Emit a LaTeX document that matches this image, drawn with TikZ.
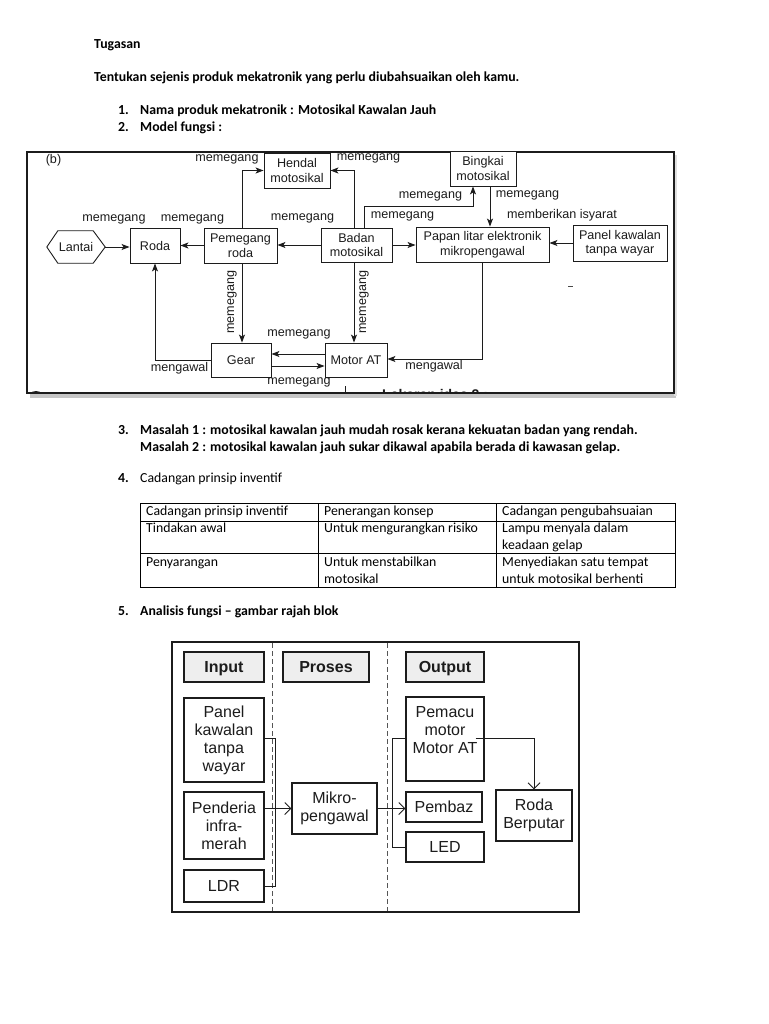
\documentclass[tikz,border=0pt]{standalone}
\usepackage{fontspec}
\setmainfont{Carlito}
\newfontfamily\arialf{Liberation Sans}
\usetikzlibrary{arrows.meta,calc}
\definecolor{ink}{RGB}{28,28,28}
\begin{document}
\begin{tikzpicture}[x=1pt,y=-1pt,
  body/.style={anchor=base west, inner sep=0pt, text=black, font=\fontsize{13.8}{17}\selectfont},
  bodyb/.style={anchor=base west, inner sep=0pt, text=black, font=\fontsize{13.8}{17}\selectfont\bfseries},
  tbox/.style={draw=ink, line width=0.9pt, fill=white, text=ink, align=center, inner sep=0pt, font=\arialf\fontsize{12.6}{14.5}\selectfont},
  tlab/.style={inner sep=0pt, text=ink, font=\arialf\fontsize{12.6}{14.5}\selectfont},
  tarr/.style={draw=ink, line width=0.9pt, -{Stealth[length=8pt,width=6pt,inset=2pt]}},
  tline/.style={draw=ink, line width=0.9pt},
  bbox/.style={draw=ink, line width=1.1pt, fill=white, text=ink, align=center, inner sep=0pt, font=\arialf\fontsize{16}{18}\selectfont},
  hbox/.style={bbox, fill=gray!13, text depth=0pt, font=\arialf\bfseries\fontsize{16}{18}\selectfont},
  barr/.style={draw=ink, line width=1pt, -{Straight Barb[length=6pt,width=12pt]}},
  bline/.style={draw=ink, line width=1pt},
  grid/.style={draw=black, line width=1pt}
]
\useasboundingbox (0,0) rectangle (768,1024);
\fill[white] (0,0) rectangle (768,1024);

% ---------------- body text ----------------
\node[bodyb] (tug) at (94,48.5) {Tugasan};
\node[bodyb] (tent) at (94,82) {Tentukan sejenis produk mekatronik yang perlu diubahsuaikan oleh kamu.};
\node[bodyb] (n1) at (118,114.5) {1.};
\node[bodyb] (i1) at (140,114.5) {Nama produk mekatronik : Motosikal Kawalan Jauh};
\node[bodyb] (n2) at (118,132) {2.};
\node[bodyb] (i2) at (140,132) {Model fungsi :};

% ---------------- top diagram ----------------
\fill[gray!45] (30,393.5) rectangle (676,397.5);
\fill[gray!25] (674,155) rectangle (677,396);
\draw[ink, line width=1.5pt] (27,152) rectangle (674,393);
\begin{scope}
  \clip (27.8,380) rectangle (673.2,392.2);
  \node[anchor=north west, inner sep=0pt, text=ink, font=\arialf\bfseries\fontsize{14}{14}\selectfont] (lak) at (382,389.5) {Lakaran idea 2 :};
  \fill[ink] (36,400) circle (9);
  \draw[ink, line width=0.8pt] (345,386) -- (345,393);
\end{scope}
\draw[ink!80, line width=1pt] (568,286) -- (573,286);

\node[tlab] (bl) at (53.5,160.7) {(b)};

\node[tbox, minimum width=66pt, minimum height=35pt] (hendal) at (297,170.5) {Hendal\\motosikal};
\node[tbox, minimum width=66pt, minimum height=35pt] (bingkai) at (483,168.5) {Bingkai\\motosikal};
\node[tbox, minimum width=50pt, minimum height=35pt] (roda) at (155,245.5) {Roda};
\node[tbox, minimum width=73pt, minimum height=35pt] (pemegang) at (240.5,245.5) {Pemegang\\roda};
\node[tbox, minimum width=71pt, minimum height=34pt] (badan) at (356.5,245) {Badan\\motosikal};
\node[tbox, minimum width=133pt, minimum height=35pt] (papan) at (482.5,244.5) {Papan litar elektronik\\mikropengawal};
\node[tbox, minimum width=94pt, minimum height=36pt] (panel) at (620,243) {Panel kawalan\\tanpa wayar};
\node[tbox, minimum width=60pt, minimum height=34pt] (gear) at (241,360) {Gear};
\node[tbox, minimum width=62pt, minimum height=34pt] (motor) at (356,360) {Motor AT};
\node[tlab, minimum width=58pt, minimum height=32pt] (lantai) at (76,247) {Lantai};
\draw[tline] (lantai.west) -- ($(lantai.north west)+(11,0)$) -- ($(lantai.north east)+(-12,0)$)
  -- (lantai.east) -- ($(lantai.south east)+(-12,0)$) -- ($(lantai.south west)+(11,0)$) -- cycle;

% connectors
\draw[tarr] (lantai.east) -- (lantai.east -| roda.west);
\draw[tarr] (pemegang.west) -- (pemegang.west -| roda.east);
\draw[tarr] (badan.west) -- (badan.west -| pemegang.east);
\coordinate (pn) at ($(pemegang.north)+(1.5,0)$);
\draw[tarr] (pn) |- (hendal.west);
\coordinate (bn1) at ($(badan.north)+(-2.5,0)$);
\draw[tarr] (bn1) |- (hendal.east);
\coordinate (bn2) at ($(badan.north)+(7.5,0)$);
\coordinate (bs1) at ($(bingkai.south)+(-10,0)$);
\draw[tarr] (bn2) |- ($(bs1)+(0,20)$) -- (bs1);
\coordinate (bs2) at ($(bingkai.south)+(7,0)$);
\draw[tarr] (bs2) -- (bs2 |- papan.north);
\draw[tarr] (badan.east) -- (badan.east -| papan.west);
\draw[tarr] (panel.west) -- (panel.west -| papan.east);
\draw[tarr] (papan.south) |- ($(motor.east)+(0,-1)$);
\coordinate (bs) at ($(badan.south)+(-2.5,0)$);
\draw[tarr] (bs) -- (bs |- motor.north);
\coordinate (ps) at ($(pemegang.south)+(1.5,0)$);
\draw[tarr] (ps) -- (ps |- gear.north);
\coordinate (mw) at ($(motor.west)+(0,-6)$);
\draw[tarr] (mw) -- (mw -| gear.east);
\coordinate (ge) at ($(gear.east)+(0,6)$);
\draw[tarr] (ge) -- (ge -| motor.west);
\draw[tarr] (gear.west) -| (roda.south);

% labels
\node[tlab] (m1) at (114,219) {memegang};
\node[tlab] (m2) at (192.5,219) {memegang};
\node[tlab] (m3) at (302.5,218) {memegang};
\node[tlab] (m4) at (227,159) {memegang};
\node[tlab] (m5) at (368.5,158) {memegang};
\node[tlab] (m6) at (430.5,196) {memegang};
\node[tlab] (m7) at (402.5,216.5) {memegang};
\node[tlab] (m8) at (527.5,195) {memegang};
\node[tlab] (m9) at (562,215.5) {memberikan isyarat};
\node[tlab] (m10) at (434,366.5) {mengawal};
\node[tlab, rotate=90] (m11) at (364,302) {memegang};
\node[tlab, rotate=90] (m12) at (232,302) {memegang};
\node[tlab] (m13) at (299,334) {memegang};
\node[tlab] (m14) at (299,382.5) {memegang};
\node[tlab] (m15) at (179.5,368) {mengawal};

% ---------------- items 3, 4 ----------------
\node[bodyb] (n3) at (118,434.5) {3.};
\node[bodyb] (i3a) at (140,434.5) {Masalah 1 : motosikal kawalan jauh mudah rosak kerana kekuatan badan yang rendah.};
\node[bodyb] (i3b) at (140,451) {Masalah 2 : motosikal kawalan jauh sukar dikawal apabila berada di kawasan gelap.};
\node[bodyb] (n4) at (118,482.5) {4.};
\node[body] (i4) at (140,482.5) {Cadangan prinsip inventif};

% ---------------- table ----------------
\draw[grid] (140,503) rectangle (675,587);
\draw[grid] (140,521) -- (675,521);
\draw[grid] (140,553) -- (675,553);
\draw[grid] (318,503) -- (318,587);
\draw[grid] (496,503) -- (496,587);
\node[body] (c11) at (146,515.5) {Cadangan prinsip inventif};
\node[body] (c12) at (324,515.5) {Penerangan konsep};
\node[body] (c13) at (502,515.5) {Cadangan pengubahsuaian};
\node[body] (c21) at (146,532) {Tindakan awal};
\node[body] (c22) at (324,532) {Untuk mengurangkan risiko};
\node[body] (c23a) at (502,532) {Lampu menyala dalam};
\node[body] (c23b) at (502,549) {keadaan gelap};
\node[body] (c31) at (146,566) {Penyarangan};
\node[body] (c32a) at (324,566) {Untuk menstabilkan};
\node[body] (c32b) at (324,583) {motosikal};
\node[body] (c33a) at (502,566) {Menyediakan satu tempat};
\node[body] (c33b) at (502,583) {untuk motosikal berhenti};

% ---------------- item 5 ----------------
\node[bodyb] (n5) at (118,615.5) {5.};
\node[bodyb] (i5) at (140,615.5) {Analisis fungsi – gambar rajah blok};

% ---------------- bottom diagram ----------------
\draw[ink, line width=1.3pt] (172,642) rectangle (579,912);
\draw[ink!75, line width=0.8pt, dash pattern=on 5pt off 3pt] (272,643) -- (272,911);
\draw[ink!75, line width=0.8pt, dash pattern=on 5pt off 3pt] (387,643) -- (387,911);

\node[hbox, minimum width=80pt, minimum height=30pt] (hin) at (224,667) {Input};
\node[hbox, minimum width=86pt, minimum height=30pt] (hpro) at (326,667) {Proses};
\node[hbox, minimum width=78pt, minimum height=30pt] (hout) at (445,667) {Output};

\node[bbox, minimum width=80pt, minimum height=84pt] (panelb) at (224,740) {Panel\\kawalan\\tanpa\\wayar};
\node[bbox, minimum width=80pt, minimum height=67pt] (penderia) at (224,825.5) {Penderia\\infra-\\merah};
\node[bbox, minimum width=80pt, minimum height=32pt] (ldr) at (224,886) {LDR};
\node[bbox, minimum width=85pt, minimum height=51pt] (mikro) at (334.5,808.5) {Mikro-\\pengawal};
\node[bbox, minimum width=78pt, minimum height=84pt] (pemacu) at (445,739) {Pemacu\\motor\\Motor AT\\\mbox{}};
\node[bbox, minimum width=76pt, minimum height=30pt] (pembaz) at (444,807) {Pembaz};
\node[bbox, minimum width=78pt, minimum height=30pt] (led) at (445,847) {LED};
\node[bbox, minimum width=76pt, minimum height=51pt] (rodab) at (534,815.5) {Roda\\Berputar};

\draw[bline] ($(panelb.east)+(0,-2)$) -- ++(11,0) |- (ldr.east);
\draw[barr] (mikro.west -| penderia.east) -- (mikro.west);
\draw[barr] (mikro.east) -- (mikro.east -| pembaz.west);
\draw[bline] ($(pemacu.west)+(0,-1)$) -- ++(-13,0) |- (led.west);
\draw[barr] ($(pemacu.east)+(-9,-1)$) -| (rodab.north);
\end{tikzpicture}
\end{document}
